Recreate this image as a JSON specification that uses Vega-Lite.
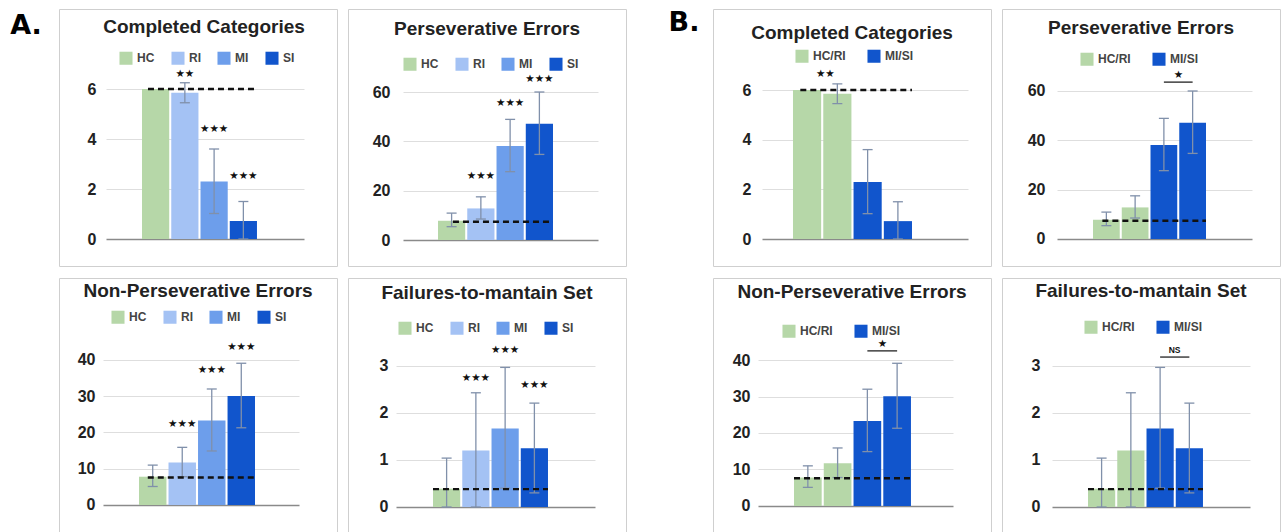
{
"$schema": "https://vega.github.io/schema/vega-lite/v6.json",
"background": "white",
"padding": {"left": 0, "top": 8, "right": 0, "bottom": 0},
"config": {"view": {"stroke": "#cfcfcf", "strokeWidth": 1}, "font": "Liberation Sans"},
"datasets": {
 "scores": [
  {"measure": "Completed Categories", "group": "HC", "pair": "HC/RI", "mean": 6.0, "lo": null, "hi": null, "sig": null, "sig_y": null},
  {"measure": "Completed Categories", "group": "RI", "pair": "HC/RI", "mean": 5.85, "lo": 5.45, "hi": 6.25, "sig": "★★", "sig_y": 6.6},
  {"measure": "Completed Categories", "group": "MI", "pair": "MI/SI", "mean": 2.3, "lo": 1.02, "hi": 3.6, "sig": "★★★", "sig_y": 4.4},
  {"measure": "Completed Categories", "group": "SI", "pair": "MI/SI", "mean": 0.72, "lo": 0.0, "hi": 1.5, "sig": "★★★", "sig_y": 2.52},
  {"measure": "Perseverative Errors", "group": "HC", "pair": "HC/RI", "mean": 7.8, "lo": 5.4, "hi": 10.9, "sig": null, "sig_y": null},
  {"measure": "Perseverative Errors", "group": "RI", "pair": "HC/RI", "mean": 12.8, "lo": 8.5, "hi": 17.5, "sig": "★★★", "sig_y": 26.0},
  {"measure": "Perseverative Errors", "group": "MI", "pair": "MI/SI", "mean": 38.1, "lo": 27.7, "hi": 48.9, "sig": "★★★", "sig_y": 55.6},
  {"measure": "Perseverative Errors", "group": "SI", "pair": "MI/SI", "mean": 47.1, "lo": 34.7, "hi": 60.0, "sig": "★★★", "sig_y": 65.4},
  {"measure": "Non-Perseverative Errors", "group": "HC", "pair": "HC/RI", "mean": 7.8, "lo": 5.1, "hi": 11.0, "sig": null, "sig_y": null},
  {"measure": "Non-Perseverative Errors", "group": "RI", "pair": "HC/RI", "mean": 11.7, "lo": 7.8, "hi": 15.9, "sig": "★★★", "sig_y": 22.3},
  {"measure": "Non-Perseverative Errors", "group": "MI", "pair": "MI/SI", "mean": 23.3, "lo": 14.9, "hi": 32.0, "sig": "★★★", "sig_y": 37.2},
  {"measure": "Non-Perseverative Errors", "group": "SI", "pair": "MI/SI", "mean": 30.1, "lo": 21.3, "hi": 39.1, "sig": "★★★", "sig_y": 43.7},
  {"measure": "Failures-to-mantain Set", "group": "HC", "pair": "HC/RI", "mean": 0.39, "lo": 0.0, "hi": 1.04, "sig": null, "sig_y": null},
  {"measure": "Failures-to-mantain Set", "group": "RI", "pair": "HC/RI", "mean": 1.2, "lo": 0.0, "hi": 2.43, "sig": "★★★", "sig_y": 2.74},
  {"measure": "Failures-to-mantain Set", "group": "MI", "pair": "MI/SI", "mean": 1.67, "lo": 0.4, "hi": 2.97, "sig": "★★★", "sig_y": 3.34},
  {"measure": "Failures-to-mantain Set", "group": "SI", "pair": "MI/SI", "mean": 1.25, "lo": 0.3, "hi": 2.21, "sig": "★★★", "sig_y": 2.6}
 ],
 "refs": [
  {"measure": "Completed Categories", "ref": 6.0},
  {"measure": "Perseverative Errors", "ref": 7.4},
  {"measure": "Non-Perseverative Errors", "ref": 7.6},
  {"measure": "Failures-to-mantain Set", "ref": 0.38}
 ],
 "bnotes": [
  {"measure": "Completed Categories", "label": "★★", "y": 6.65},
  {"measure": "Perseverative Errors", "label": "★", "y": 63.6},
  {"measure": "Non-Perseverative Errors", "label": "★", "y": 42.5},
  {"measure": "Failures-to-mantain Set", "label": "NS", "y": 3.19}
 ]
},
"spacing": 32,
"resolve": {"scale": {"color": "independent", "x": "independent", "y": "independent"}, "legend": {"color": "independent"}},
"hconcat": [
 {"spacing": 6,
  "resolve": {"scale": {"color": "independent", "x": "independent", "y": "independent"}, "legend": {"color": "independent"}},
  "hconcat": [
  {"width": 52, "height": 34, "view": {"stroke": null}, "data": {"values": [{"label": "A."}]},
   "mark": {"type": "text", "font": "DejaVu Sans", "fontWeight": "bold", "fontSize": 27, "color": "#000", "baseline": "middle", "align": "center"},
   "encoding": {"text": {"field": "label"}}},
  {"spacing": 10,
   "resolve": {"scale": {"color": "independent", "x": "independent", "y": "independent"}, "legend": {"color": "independent"}},
   "vconcat": [
   {"spacing": 9,
    "resolve": {"scale": {"color": "independent", "x": "independent", "y": "independent"}, "legend": {"color": "independent"}},
    "hconcat": [
    {"width": 278, "height": 257,
     "title": {"text": "Completed Categories", "offset": -43, "dx": 6, "baseline": "alphabetic", "fontSize": 19, "font": "Liberation Sans", "fontWeight": "bold", "color": "#222", "anchor": "middle", "frame": "group"},
     "data": {"name": "scores"},
     "transform": [{"filter": "datum.measure === 'Completed Categories'"}],
     "encoding": {"x": {"field": "group", "type": "nominal", "axis": null, "scale": {"domain": ["_a", "HC", "RI", "MI", "SI", "_b"], "range": [47, 245], "paddingInner": 0.07, "paddingOuter": 0.419, "align": 0.275}}},
     "layer": [
      {"mark": {"type": "bar"}, "encoding": {
        "y": {"field": "mean", "type": "quantitative", "title": null, "scale": {"domain": [-1.08, 9.2], "nice": false, "zero": false},
              "axis": {"values": [0, 2, 4, 6], "offset": -47, "domain": false, "ticks": false, "tickSize": 0, "labelPadding": 10, "labelFont": "Liberation Sans", "labelFontWeight": "bold", "labelFontSize": 16, "labelColor": "#222", "grid": true, "gridColor": {"condition": {"test": "datum.value === 0", "value": "#8a8a8a"}, "value": "#dedede"}, "gridWidth": {"condition": {"test": "datum.value === 0", "value": 1.6}, "value": 1}, "title": null}},
        "y2": {"datum": 0},
        "color": {"field": "group", "type": "nominal", "scale": {"domain": ["HC", "RI", "MI", "SI"], "range": ["#b6d7a8", "#a4c2f4", "#6d9eeb", "#1155cc"]},
                  "legend": {"orient": "none", "legendX": 60, "legendY": 42, "direction": "horizontal", "title": null, "symbolType": "square", "symbolSize": 170, "symbolStrokeWidth": 0, "symbolOpacity": 1, "labelFont": "Liberation Sans", "labelFontWeight": "bold", "labelFontSize": 12, "labelColor": "#444", "labelOffset": 4, "columnPadding": 16, "padding": 0}}}},
      {"mark": {"type": "rule", "color": "#8090aa", "strokeWidth": 1.3}, "encoding": {"y": {"field": "lo", "type": "quantitative", "title": null, "scale": {"domain": [-1.08, 9.2], "nice": false, "zero": false}}, "y2": {"field": "hi"}}},
      {"mark": {"type": "tick", "orient": "horizontal", "size": 10, "thickness": 1.3, "color": "#8090aa", "opacity": 1}, "encoding": {"y": {"field": "lo", "type": "quantitative", "title": null, "scale": {"domain": [-1.08, 9.2], "nice": false, "zero": false}}}},
      {"mark": {"type": "tick", "orient": "horizontal", "size": 10, "thickness": 1.3, "color": "#8090aa", "opacity": 1}, "encoding": {"y": {"field": "hi", "type": "quantitative", "title": null, "scale": {"domain": [-1.08, 9.2], "nice": false, "zero": false}}}},
      {"data": {"name": "refs"}, "transform": [{"filter": "datum.measure === 'Completed Categories'"}],
       "mark": {"type": "rule", "color": "#111", "strokeWidth": 2.4, "strokeDash": [6, 4]},
       "encoding": {"x": {"datum": "HC", "bandPosition": 0.22}, "x2": {"datum": "SI", "bandPosition": 1}, "y": {"field": "ref", "type": "quantitative", "title": null, "scale": {"domain": [-1.08, 9.2], "nice": false, "zero": false}}}},
      {"transform": [{"filter": "datum.sig != null"}],
       "mark": {"type": "text", "font": "DejaVu Sans", "fontSize": 10.5, "color": "#111", "baseline": "middle"},
       "encoding": {"y": {"field": "sig_y", "type": "quantitative", "title": null, "scale": {"domain": [-1.08, 9.2], "nice": false, "zero": false}}, "text": {"field": "sig"}}}
     ]},
    {"width": 278, "height": 257,
     "title": {"text": "Perseverative Errors", "offset": -45, "baseline": "alphabetic", "fontSize": 19, "font": "Liberation Sans", "fontWeight": "bold", "color": "#222", "anchor": "middle", "frame": "group"},
     "data": {"name": "scores"},
     "transform": [{"filter": "datum.measure === 'Perseverative Errors'"}],
     "encoding": {"x": {"field": "group", "type": "nominal", "axis": null, "scale": {"domain": ["_a", "HC", "RI", "MI", "SI", "_b"], "range": [55, 250], "paddingInner": 0.07, "paddingOuter": 0.367, "align": 0.267}}},
     "layer": [
      {"mark": {"type": "bar"}, "encoding": {
        "y": {"field": "mean", "type": "quantitative", "title": null, "scale": {"domain": [-10.54, 93.65], "nice": false, "zero": false},
              "axis": {"values": [0, 20, 40, 60], "offset": -55, "domain": false, "ticks": false, "tickSize": 0, "labelPadding": 13, "labelFont": "Liberation Sans", "labelFontWeight": "bold", "labelFontSize": 16, "labelColor": "#222", "grid": true, "gridColor": {"condition": {"test": "datum.value === 0", "value": "#8a8a8a"}, "value": "#dedede"}, "gridWidth": {"condition": {"test": "datum.value === 0", "value": 1.6}, "value": 1}, "title": null}},
        "y2": {"datum": 0},
        "color": {"field": "group", "type": "nominal", "scale": {"domain": ["HC", "RI", "MI", "SI"], "range": ["#b6d7a8", "#a4c2f4", "#6d9eeb", "#1155cc"]},
                  "legend": {"orient": "none", "legendX": 55, "legendY": 48, "direction": "horizontal", "title": null, "symbolType": "square", "symbolSize": 170, "symbolStrokeWidth": 0, "symbolOpacity": 1, "labelFont": "Liberation Sans", "labelFontWeight": "bold", "labelFontSize": 12, "labelColor": "#444", "labelOffset": 4, "columnPadding": 16, "padding": 0}}}},
      {"mark": {"type": "rule", "color": "#8090aa", "strokeWidth": 1.3}, "encoding": {"y": {"field": "lo", "type": "quantitative", "title": null, "scale": {"domain": [-10.54, 93.65], "nice": false, "zero": false}}, "y2": {"field": "hi"}}},
      {"mark": {"type": "tick", "orient": "horizontal", "size": 10, "thickness": 1.3, "color": "#8090aa", "opacity": 1}, "encoding": {"y": {"field": "lo", "type": "quantitative", "title": null, "scale": {"domain": [-10.54, 93.65], "nice": false, "zero": false}}}},
      {"mark": {"type": "tick", "orient": "horizontal", "size": 10, "thickness": 1.3, "color": "#8090aa", "opacity": 1}, "encoding": {"y": {"field": "hi", "type": "quantitative", "title": null, "scale": {"domain": [-10.54, 93.65], "nice": false, "zero": false}}}},
      {"data": {"name": "refs"}, "transform": [{"filter": "datum.measure === 'Perseverative Errors'"}],
       "mark": {"type": "rule", "color": "#111", "strokeWidth": 2.4, "strokeDash": [6, 4]},
       "encoding": {"x": {"datum": "HC", "bandPosition": 0.55}, "x2": {"datum": "SI", "bandPosition": 1}, "y": {"field": "ref", "type": "quantitative", "title": null, "scale": {"domain": [-10.54, 93.65], "nice": false, "zero": false}}}},
      {"transform": [{"filter": "datum.sig != null"}],
       "mark": {"type": "text", "font": "DejaVu Sans", "fontSize": 10.5, "color": "#111", "baseline": "middle"},
       "encoding": {"y": {"field": "sig_y", "type": "quantitative", "title": null, "scale": {"domain": [-10.54, 93.65], "nice": false, "zero": false}}, "text": {"field": "sig"}}}
     ]}
   ]},
   {"spacing": 9,
    "resolve": {"scale": {"color": "independent", "x": "independent", "y": "independent"}, "legend": {"color": "independent"}},
    "hconcat": [
    {"width": 278, "height": 257,
     "title": {"text": "Non-Perseverative Errors", "offset": -38, "baseline": "alphabetic", "fontSize": 19, "font": "Liberation Sans", "fontWeight": "bold", "color": "#222", "anchor": "middle", "frame": "group"},
     "data": {"name": "scores"},
     "transform": [{"filter": "datum.measure === 'Non-Perseverative Errors'"}],
     "encoding": {"x": {"field": "group", "type": "nominal", "axis": null, "scale": {"domain": ["_a", "HC", "RI", "MI", "SI", "_b"], "range": [44, 240], "paddingInner": 0.07, "paddingOuter": 0.355, "align": 0.309}}},
     "layer": [
      {"mark": {"type": "bar"}, "encoding": {
        "y": {"field": "mean", "type": "quantitative", "title": null, "scale": {"domain": [-8.28, 62.62], "nice": false, "zero": false},
              "axis": {"values": [0, 10, 20, 30, 40], "offset": -44, "domain": false, "ticks": false, "tickSize": 0, "labelPadding": 8, "labelFont": "Liberation Sans", "labelFontWeight": "bold", "labelFontSize": 16, "labelColor": "#222", "grid": true, "gridColor": {"condition": {"test": "datum.value === 0", "value": "#8a8a8a"}, "value": "#dedede"}, "gridWidth": {"condition": {"test": "datum.value === 0", "value": 1.6}, "value": 1}, "title": null}},
        "y2": {"datum": 0},
        "color": {"field": "group", "type": "nominal", "scale": {"domain": ["HC", "RI", "MI", "SI"], "range": ["#b6d7a8", "#a4c2f4", "#6d9eeb", "#1155cc"]},
                  "legend": {"orient": "none", "legendX": 52, "legendY": 32, "direction": "horizontal", "title": null, "symbolType": "square", "symbolSize": 170, "symbolStrokeWidth": 0, "symbolOpacity": 1, "labelFont": "Liberation Sans", "labelFontWeight": "bold", "labelFontSize": 12, "labelColor": "#444", "labelOffset": 4, "columnPadding": 16, "padding": 0}}}},
      {"mark": {"type": "rule", "color": "#8090aa", "strokeWidth": 1.3}, "encoding": {"y": {"field": "lo", "type": "quantitative", "title": null, "scale": {"domain": [-8.28, 62.62], "nice": false, "zero": false}}, "y2": {"field": "hi"}}},
      {"mark": {"type": "tick", "orient": "horizontal", "size": 10, "thickness": 1.3, "color": "#8090aa", "opacity": 1}, "encoding": {"y": {"field": "lo", "type": "quantitative", "title": null, "scale": {"domain": [-8.28, 62.62], "nice": false, "zero": false}}}},
      {"mark": {"type": "tick", "orient": "horizontal", "size": 10, "thickness": 1.3, "color": "#8090aa", "opacity": 1}, "encoding": {"y": {"field": "hi", "type": "quantitative", "title": null, "scale": {"domain": [-8.28, 62.62], "nice": false, "zero": false}}}},
      {"data": {"name": "refs"}, "transform": [{"filter": "datum.measure === 'Non-Perseverative Errors'"}],
       "mark": {"type": "rule", "color": "#111", "strokeWidth": 2.4, "strokeDash": [6, 4]},
       "encoding": {"x": {"datum": "HC", "bandPosition": 0.32}, "x2": {"datum": "SI", "bandPosition": 1}, "y": {"field": "ref", "type": "quantitative", "title": null, "scale": {"domain": [-8.28, 62.62], "nice": false, "zero": false}}}},
      {"transform": [{"filter": "datum.sig != null"}],
       "mark": {"type": "text", "font": "DejaVu Sans", "fontSize": 10.5, "color": "#111", "baseline": "middle"},
       "encoding": {"y": {"field": "sig_y", "type": "quantitative", "title": null, "scale": {"domain": [-8.28, 62.62], "nice": false, "zero": false}}, "text": {"field": "sig"}}}
     ]},
    {"width": 278, "height": 257,
     "title": {"text": "Failures-to-mantain Set", "offset": -40, "baseline": "alphabetic", "fontSize": 19, "font": "Liberation Sans", "fontWeight": "bold", "color": "#222", "anchor": "middle", "frame": "group"},
     "data": {"name": "scores"},
     "transform": [{"filter": "datum.measure === 'Failures-to-mantain Set'"}],
     "encoding": {"x": {"field": "group", "type": "nominal", "axis": null, "scale": {"domain": ["_a", "HC", "RI", "MI", "SI", "_b"], "range": [48, 247], "paddingInner": 0.07, "paddingOuter": 0.436, "align": 0.304}}},
     "layer": [
      {"mark": {"type": "bar"}, "encoding": {
        "y": {"field": "mean", "type": "quantitative", "title": null, "scale": {"domain": [-0.596, 4.872], "nice": false, "zero": false},
              "axis": {"values": [0, 1, 2, 3], "offset": -48, "domain": false, "ticks": false, "tickSize": 0, "labelPadding": 8, "labelFont": "Liberation Sans", "labelFontWeight": "bold", "labelFontSize": 16, "labelColor": "#222", "grid": true, "gridColor": {"condition": {"test": "datum.value === 0", "value": "#8a8a8a"}, "value": "#dedede"}, "gridWidth": {"condition": {"test": "datum.value === 0", "value": 1.6}, "value": 1}, "title": null}},
        "y2": {"datum": 0},
        "color": {"field": "group", "type": "nominal", "scale": {"domain": ["HC", "RI", "MI", "SI"], "range": ["#b6d7a8", "#a4c2f4", "#6d9eeb", "#1155cc"]},
                  "legend": {"orient": "none", "legendX": 50, "legendY": 43, "direction": "horizontal", "title": null, "symbolType": "square", "symbolSize": 170, "symbolStrokeWidth": 0, "symbolOpacity": 1, "labelFont": "Liberation Sans", "labelFontWeight": "bold", "labelFontSize": 12, "labelColor": "#444", "labelOffset": 4, "columnPadding": 16, "padding": 0}}}},
      {"mark": {"type": "rule", "color": "#8090aa", "strokeWidth": 1.3}, "encoding": {"y": {"field": "lo", "type": "quantitative", "title": null, "scale": {"domain": [-0.596, 4.872], "nice": false, "zero": false}}, "y2": {"field": "hi"}}},
      {"mark": {"type": "tick", "orient": "horizontal", "size": 10, "thickness": 1.3, "color": "#8090aa", "opacity": 1}, "encoding": {"y": {"field": "lo", "type": "quantitative", "title": null, "scale": {"domain": [-0.596, 4.872], "nice": false, "zero": false}}}},
      {"mark": {"type": "tick", "orient": "horizontal", "size": 10, "thickness": 1.3, "color": "#8090aa", "opacity": 1}, "encoding": {"y": {"field": "hi", "type": "quantitative", "title": null, "scale": {"domain": [-0.596, 4.872], "nice": false, "zero": false}}}},
      {"data": {"name": "refs"}, "transform": [{"filter": "datum.measure === 'Failures-to-mantain Set'"}],
       "mark": {"type": "rule", "color": "#111", "strokeWidth": 2.4, "strokeDash": [6, 4]},
       "encoding": {"x": {"datum": "HC", "bandPosition": 0}, "x2": {"datum": "SI", "bandPosition": 1}, "y": {"field": "ref", "type": "quantitative", "title": null, "scale": {"domain": [-0.596, 4.872], "nice": false, "zero": false}}}},
      {"transform": [{"filter": "datum.sig != null"}],
       "mark": {"type": "text", "font": "DejaVu Sans", "fontSize": 10.5, "color": "#111", "baseline": "middle"},
       "encoding": {"y": {"field": "sig_y", "type": "quantitative", "title": null, "scale": {"domain": [-0.596, 4.872], "nice": false, "zero": false}}, "text": {"field": "sig"}}}
     ]}
   ]}
  ]}
 ]},
 {"spacing": 3,
  "resolve": {"scale": {"color": "independent", "x": "independent", "y": "independent"}, "legend": {"color": "independent"}},
  "hconcat": [
  {"width": 50, "height": 28, "view": {"stroke": null}, "data": {"values": [{"label": "B."}]},
   "mark": {"type": "text", "font": "DejaVu Sans", "fontWeight": "bold", "fontSize": 27, "color": "#000", "baseline": "middle", "align": "center"},
   "encoding": {"text": {"field": "label"}}},
  {"spacing": 10,
   "resolve": {"scale": {"color": "independent", "x": "independent", "y": "independent"}, "legend": {"color": "independent"}},
   "vconcat": [
   {"spacing": 9,
    "resolve": {"scale": {"color": "independent", "x": "independent", "y": "independent"}, "legend": {"color": "independent"}},
    "hconcat": [
    {"width": 278, "height": 257,
     "title": {"text": "Completed Categories", "offset": -49, "baseline": "alphabetic", "fontSize": 19, "font": "Liberation Sans", "fontWeight": "bold", "color": "#222", "anchor": "middle", "frame": "group"},
     "data": {"name": "scores"},
     "transform": [{"filter": "datum.measure === 'Completed Categories'"}],
     "encoding": {"x": {"field": "group", "type": "nominal", "axis": null, "scale": {"domain": ["_a", "HC", "RI", "MI", "SI", "_b"], "range": [49, 255], "paddingInner": 0.07, "paddingOuter": 0.437, "align": 0.027}}},
     "layer": [
      {"mark": {"type": "bar"}, "encoding": {
        "y": {"field": "mean", "type": "quantitative", "title": null, "scale": {"domain": [-1.087, 9.262], "nice": false, "zero": false},
              "axis": {"values": [0, 2, 4, 6], "offset": -49, "domain": false, "ticks": false, "tickSize": 0, "labelPadding": 11, "labelFont": "Liberation Sans", "labelFontWeight": "bold", "labelFontSize": 16, "labelColor": "#222", "grid": true, "gridColor": {"condition": {"test": "datum.value === 0", "value": "#8a8a8a"}, "value": "#dedede"}, "gridWidth": {"condition": {"test": "datum.value === 0", "value": 1.6}, "value": 1}, "title": null}},
        "y2": {"datum": 0},
        "color": {"field": "pair", "type": "nominal", "scale": {"domain": ["HC/RI", "MI/SI"], "range": ["#b6d7a8", "#1155cc"]},
                  "legend": {"orient": "none", "legendX": 82, "legendY": 40, "direction": "horizontal", "title": null, "symbolType": "square", "symbolSize": 170, "symbolStrokeWidth": 0, "symbolOpacity": 1, "labelFont": "Liberation Sans", "labelFontWeight": "bold", "labelFontSize": 12, "labelColor": "#444", "labelOffset": 4, "columnPadding": 21, "padding": 0}}}},
      {"mark": {"type": "rule", "color": "#8090aa", "strokeWidth": 1.3}, "encoding": {"y": {"field": "lo", "type": "quantitative", "title": null, "scale": {"domain": [-1.087, 9.262], "nice": false, "zero": false}}, "y2": {"field": "hi"}}},
      {"mark": {"type": "tick", "orient": "horizontal", "size": 10, "thickness": 1.3, "color": "#8090aa", "opacity": 1}, "encoding": {"y": {"field": "lo", "type": "quantitative", "title": null, "scale": {"domain": [-1.087, 9.262], "nice": false, "zero": false}}}},
      {"mark": {"type": "tick", "orient": "horizontal", "size": 10, "thickness": 1.3, "color": "#8090aa", "opacity": 1}, "encoding": {"y": {"field": "hi", "type": "quantitative", "title": null, "scale": {"domain": [-1.087, 9.262], "nice": false, "zero": false}}}},
      {"data": {"name": "refs"}, "transform": [{"filter": "datum.measure === 'Completed Categories'"}],
       "mark": {"type": "rule", "color": "#111", "strokeWidth": 2.4, "strokeDash": [6, 4]},
       "encoding": {"x": {"datum": "HC", "bandPosition": 0.26}, "x2": {"datum": "SI", "bandPosition": 1}, "y": {"field": "ref", "type": "quantitative", "title": null, "scale": {"domain": [-1.087, 9.262], "nice": false, "zero": false}}}},
      {"data": {"name": "bnotes"}, "transform": [{"filter": "datum.measure === 'Completed Categories'"}],
       "mark": {"type": "text", "font": "DejaVu Sans", "fontSize": 10.5, "color": "#111", "baseline": "middle", "dx": -12},
       "encoding": {"x": {"datum": "RI"}, "y": {"field": "y", "type": "quantitative", "title": null, "scale": {"domain": [-1.087, 9.262], "nice": false, "zero": false}}, "text": {"field": "label"}}}
     ]},
    {"width": 278, "height": 257,
     "title": {"text": "Perseverative Errors", "offset": -44, "baseline": "alphabetic", "fontSize": 19, "font": "Liberation Sans", "fontWeight": "bold", "color": "#222", "anchor": "middle", "frame": "group"},
     "data": {"name": "scores"},
     "transform": [{"filter": "datum.measure === 'Perseverative Errors'"}],
     "encoding": {"x": {"field": "group", "type": "nominal", "axis": null, "scale": {"domain": ["_a", "HC", "RI", "MI", "SI", "_b"], "range": [55, 250], "paddingInner": 0.07, "paddingOuter": 0.426, "align": 0.296}}},
     "layer": [
      {"mark": {"type": "bar"}, "encoding": {
        "y": {"field": "mean", "type": "quantitative", "title": null, "scale": {"domain": [-10.95, 93.24], "nice": false, "zero": false},
              "axis": {"values": [0, 20, 40, 60], "offset": -55, "domain": false, "ticks": false, "tickSize": 0, "labelPadding": 12, "labelFont": "Liberation Sans", "labelFontWeight": "bold", "labelFontSize": 16, "labelColor": "#222", "grid": true, "gridColor": {"condition": {"test": "datum.value === 0", "value": "#8a8a8a"}, "value": "#dedede"}, "gridWidth": {"condition": {"test": "datum.value === 0", "value": 1.6}, "value": 1}, "title": null}},
        "y2": {"datum": 0},
        "color": {"field": "pair", "type": "nominal", "scale": {"domain": ["HC/RI", "MI/SI"], "range": ["#b6d7a8", "#1155cc"]},
                  "legend": {"orient": "none", "legendX": 78, "legendY": 43, "direction": "horizontal", "title": null, "symbolType": "square", "symbolSize": 170, "symbolStrokeWidth": 0, "symbolOpacity": 1, "labelFont": "Liberation Sans", "labelFontWeight": "bold", "labelFontSize": 12, "labelColor": "#444", "labelOffset": 4, "columnPadding": 21, "padding": 0}}}},
      {"mark": {"type": "rule", "color": "#8090aa", "strokeWidth": 1.3}, "encoding": {"y": {"field": "lo", "type": "quantitative", "title": null, "scale": {"domain": [-10.95, 93.24], "nice": false, "zero": false}}, "y2": {"field": "hi"}}},
      {"mark": {"type": "tick", "orient": "horizontal", "size": 10, "thickness": 1.3, "color": "#8090aa", "opacity": 1}, "encoding": {"y": {"field": "lo", "type": "quantitative", "title": null, "scale": {"domain": [-10.95, 93.24], "nice": false, "zero": false}}}},
      {"mark": {"type": "tick", "orient": "horizontal", "size": 10, "thickness": 1.3, "color": "#8090aa", "opacity": 1}, "encoding": {"y": {"field": "hi", "type": "quantitative", "title": null, "scale": {"domain": [-10.95, 93.24], "nice": false, "zero": false}}}},
      {"data": {"name": "refs"}, "transform": [{"filter": "datum.measure === 'Perseverative Errors'"}],
       "mark": {"type": "rule", "color": "#111", "strokeWidth": 2.4, "strokeDash": [6, 4]},
       "encoding": {"x": {"datum": "HC", "bandPosition": 0.35}, "x2": {"datum": "SI", "bandPosition": 1}, "y": {"field": "ref", "type": "quantitative", "title": null, "scale": {"domain": [-10.95, 93.24], "nice": false, "zero": false}}}},
      {"data": {"name": "bnotes"}, "transform": [{"filter": "datum.measure === 'Perseverative Errors'"}],
       "mark": {"type": "rule", "color": "#222", "strokeWidth": 1.3},
       "encoding": {"x": {"datum": "MI"}, "x2": {"datum": "SI"}, "y": {"field": "y", "type": "quantitative", "title": null, "scale": {"domain": [-10.95, 93.24], "nice": false, "zero": false}}}},
      {"data": {"name": "bnotes"}, "transform": [{"filter": "datum.measure === 'Perseverative Errors'"}],
       "mark": {"type": "text", "font": "DejaVu Sans", "fontSize": 10.5, "color": "#111", "baseline": "bottom", "dx": 14.5, "dy": -2},
       "encoding": {"x": {"datum": "MI"}, "y": {"field": "y", "type": "quantitative", "title": null, "scale": {"domain": [-10.95, 93.24], "nice": false, "zero": false}}, "text": {"field": "label"}}}
     ]}
   ]},
   {"spacing": 9,
    "resolve": {"scale": {"color": "independent", "x": "independent", "y": "independent"}, "legend": {"color": "independent"}},
    "hconcat": [
    {"width": 278, "height": 257,
     "title": {"text": "Non-Perseverative Errors", "offset": -39, "baseline": "alphabetic", "fontSize": 19, "font": "Liberation Sans", "fontWeight": "bold", "color": "#222", "anchor": "middle", "frame": "group"},
     "data": {"name": "scores"},
     "transform": [{"filter": "datum.measure === 'Non-Perseverative Errors'"}],
     "encoding": {"x": {"field": "group", "type": "nominal", "axis": null, "scale": {"domain": ["_a", "HC", "RI", "MI", "SI", "_b"], "range": [45, 240], "paddingInner": 0.07, "paddingOuter": 0.311, "align": 0.337}}},
     "layer": [
      {"mark": {"type": "bar"}, "encoding": {
        "y": {"field": "mean", "type": "quantitative", "title": null, "scale": {"domain": [-7.95, 62.47], "nice": false, "zero": false},
              "axis": {"values": [0, 10, 20, 30, 40], "offset": -45, "domain": false, "ticks": false, "tickSize": 0, "labelPadding": 8, "labelFont": "Liberation Sans", "labelFontWeight": "bold", "labelFontSize": 16, "labelColor": "#222", "grid": true, "gridColor": {"condition": {"test": "datum.value === 0", "value": "#8a8a8a"}, "value": "#dedede"}, "gridWidth": {"condition": {"test": "datum.value === 0", "value": 1.6}, "value": 1}, "title": null}},
        "y2": {"datum": 0},
        "color": {"field": "pair", "type": "nominal", "scale": {"domain": ["HC/RI", "MI/SI"], "range": ["#b6d7a8", "#1155cc"]},
                  "legend": {"orient": "none", "legendX": 69, "legendY": 46, "direction": "horizontal", "title": null, "symbolType": "square", "symbolSize": 170, "symbolStrokeWidth": 0, "symbolOpacity": 1, "labelFont": "Liberation Sans", "labelFontWeight": "bold", "labelFontSize": 12, "labelColor": "#444", "labelOffset": 4, "columnPadding": 21, "padding": 0}}}},
      {"mark": {"type": "rule", "color": "#8090aa", "strokeWidth": 1.3}, "encoding": {"y": {"field": "lo", "type": "quantitative", "title": null, "scale": {"domain": [-7.95, 62.47], "nice": false, "zero": false}}, "y2": {"field": "hi"}}},
      {"mark": {"type": "tick", "orient": "horizontal", "size": 10, "thickness": 1.3, "color": "#8090aa", "opacity": 1}, "encoding": {"y": {"field": "lo", "type": "quantitative", "title": null, "scale": {"domain": [-7.95, 62.47], "nice": false, "zero": false}}}},
      {"mark": {"type": "tick", "orient": "horizontal", "size": 10, "thickness": 1.3, "color": "#8090aa", "opacity": 1}, "encoding": {"y": {"field": "hi", "type": "quantitative", "title": null, "scale": {"domain": [-7.95, 62.47], "nice": false, "zero": false}}}},
      {"data": {"name": "refs"}, "transform": [{"filter": "datum.measure === 'Non-Perseverative Errors'"}],
       "mark": {"type": "rule", "color": "#111", "strokeWidth": 2.4, "strokeDash": [6, 4]},
       "encoding": {"x": {"datum": "HC", "bandPosition": 0}, "x2": {"datum": "SI", "bandPosition": 1}, "y": {"field": "ref", "type": "quantitative", "title": null, "scale": {"domain": [-7.95, 62.47], "nice": false, "zero": false}}}},
      {"data": {"name": "bnotes"}, "transform": [{"filter": "datum.measure === 'Non-Perseverative Errors'"}],
       "mark": {"type": "rule", "color": "#222", "strokeWidth": 1.3},
       "encoding": {"x": {"datum": "MI"}, "x2": {"datum": "SI"}, "y": {"field": "y", "type": "quantitative", "title": null, "scale": {"domain": [-7.95, 62.47], "nice": false, "zero": false}}}},
      {"data": {"name": "bnotes"}, "transform": [{"filter": "datum.measure === 'Non-Perseverative Errors'"}],
       "mark": {"type": "text", "font": "DejaVu Sans", "fontSize": 10.5, "color": "#111", "baseline": "bottom", "dx": 15, "dy": -2},
       "encoding": {"x": {"datum": "MI"}, "y": {"field": "y", "type": "quantitative", "title": null, "scale": {"domain": [-7.95, 62.47], "nice": false, "zero": false}}, "text": {"field": "label"}}}
     ]},
    {"width": 278, "height": 257,
     "title": {"text": "Failures-to-mantain Set", "offset": -38, "baseline": "alphabetic", "fontSize": 19, "font": "Liberation Sans", "fontWeight": "bold", "color": "#222", "anchor": "middle", "frame": "group"},
     "data": {"name": "scores"},
     "transform": [{"filter": "datum.measure === 'Failures-to-mantain Set'"}],
     "encoding": {"x": {"field": "group", "type": "nominal", "axis": null, "scale": {"domain": ["_a", "HC", "RI", "MI", "SI", "_b"], "range": [50, 248], "paddingInner": 0.07, "paddingOuter": 0.419, "align": 0.275}}},
     "layer": [
      {"mark": {"type": "bar"}, "encoding": {
        "y": {"field": "mean", "type": "quantitative", "title": null, "scale": {"domain": [-0.596, 4.872], "nice": false, "zero": false},
              "axis": {"values": [0, 1, 2, 3], "offset": -50, "domain": false, "ticks": false, "tickSize": 0, "labelPadding": 12, "labelFont": "Liberation Sans", "labelFontWeight": "bold", "labelFontSize": 16, "labelColor": "#222", "grid": true, "gridColor": {"condition": {"test": "datum.value === 0", "value": "#8a8a8a"}, "value": "#dedede"}, "gridWidth": {"condition": {"test": "datum.value === 0", "value": 1.6}, "value": 1}, "title": null}},
        "y2": {"datum": 0},
        "color": {"field": "pair", "type": "nominal", "scale": {"domain": ["HC/RI", "MI/SI"], "range": ["#b6d7a8", "#1155cc"]},
                  "legend": {"orient": "none", "legendX": 82, "legendY": 42, "direction": "horizontal", "title": null, "symbolType": "square", "symbolSize": 170, "symbolStrokeWidth": 0, "symbolOpacity": 1, "labelFont": "Liberation Sans", "labelFontWeight": "bold", "labelFontSize": 12, "labelColor": "#444", "labelOffset": 4, "columnPadding": 21, "padding": 0}}}},
      {"mark": {"type": "rule", "color": "#8090aa", "strokeWidth": 1.3}, "encoding": {"y": {"field": "lo", "type": "quantitative", "title": null, "scale": {"domain": [-0.596, 4.872], "nice": false, "zero": false}}, "y2": {"field": "hi"}}},
      {"mark": {"type": "tick", "orient": "horizontal", "size": 10, "thickness": 1.3, "color": "#8090aa", "opacity": 1}, "encoding": {"y": {"field": "lo", "type": "quantitative", "title": null, "scale": {"domain": [-0.596, 4.872], "nice": false, "zero": false}}}},
      {"mark": {"type": "tick", "orient": "horizontal", "size": 10, "thickness": 1.3, "color": "#8090aa", "opacity": 1}, "encoding": {"y": {"field": "hi", "type": "quantitative", "title": null, "scale": {"domain": [-0.596, 4.872], "nice": false, "zero": false}}}},
      {"data": {"name": "refs"}, "transform": [{"filter": "datum.measure === 'Failures-to-mantain Set'"}],
       "mark": {"type": "rule", "color": "#111", "strokeWidth": 2.4, "strokeDash": [6, 4]},
       "encoding": {"x": {"datum": "HC", "bandPosition": 0}, "x2": {"datum": "SI", "bandPosition": 1}, "y": {"field": "ref", "type": "quantitative", "title": null, "scale": {"domain": [-0.596, 4.872], "nice": false, "zero": false}}}},
      {"data": {"name": "bnotes"}, "transform": [{"filter": "datum.measure === 'Failures-to-mantain Set'"}],
       "mark": {"type": "rule", "color": "#222", "strokeWidth": 1.3},
       "encoding": {"x": {"datum": "MI"}, "x2": {"datum": "SI"}, "y": {"field": "y", "type": "quantitative", "title": null, "scale": {"domain": [-0.596, 4.872], "nice": false, "zero": false}}}},
      {"data": {"name": "bnotes"}, "transform": [{"filter": "datum.measure === 'Failures-to-mantain Set'"}],
       "mark": {"type": "text", "font": "Liberation Sans", "fontWeight": "bold", "fontSize": 8.5, "color": "#111", "baseline": "bottom", "dx": 14.5, "dy": -2},
       "encoding": {"x": {"datum": "MI"}, "y": {"field": "y", "type": "quantitative", "title": null, "scale": {"domain": [-0.596, 4.872], "nice": false, "zero": false}}, "text": {"field": "label"}}}
     ]}
   ]}
  ]}
 ]}
]
}
